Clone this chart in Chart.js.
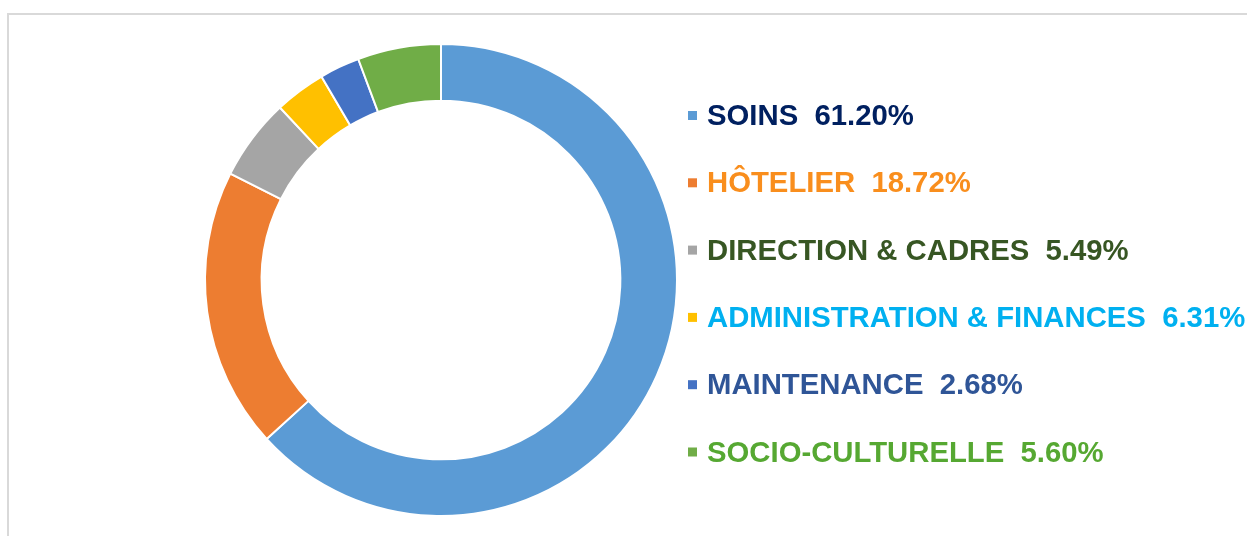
<!DOCTYPE html>
<html lang="fr">
<head>
    <meta charset="UTF-8">
    <title>Répartition du personnel</title>
    <script src="https://cdn.jsdelivr.net/npm/chart.js"></script>
    <style>
        html, body { margin: 0; padding: 0; background: #fff; overflow: hidden; }
        #frame {
            position: absolute; left: 7px; top: 13px; width: 1300px; height: 600px;
            border-top: 2px solid #d9d9d9; border-left: 2px solid #d9d9d9;
        }
        #wrap { position: absolute; left: 0; top: 0; width: 1247px; height: 536px; }
    </style>
</head>
<body>
    <div id="frame"></div>
    <div id="wrap"><canvas id="myChart"></canvas></div>
    <script>
        // catégories et valeurs
        const categories = ['SOINS', 'HÔTELIER', 'DIRECTION & CADRES', 'ADMINISTRATION & FINANCES', 'MAINTENANCE', 'SOCIO-CULTURELLE'];
        const legendPercents = ['61.20%', '18.72%', '5.49%', '6.31%', '2.68%', '5.60%'];
        // tailles des secteurs
        const sliceValues = [63.2, 19.2, 5.6, 3.5, 2.75, 5.7];
        const sliceColors = ['#5B9BD5', '#ED7D31', '#A5A5A5', '#FFC000', '#4472C4', '#70AD47'];
        const textColors = ['#002060', '#F98E1D', '#375623', '#00B0F0', '#2F5597', '#56A832'];

        // légende dessinée à droite
        const sideLegend = {
            id: 'sideLegend',
            afterDraw(chart) {
                const ctx = chart.ctx;
                ctx.save();
                ctx.font = 'bold 29.3px "Liberation Sans", Arial, sans-serif';
                ctx.textBaseline = 'alphabetic';
                categories.forEach((cat, i) => {
                    const base = 125 + i * 67.3;
                    ctx.fillStyle = sliceColors[i];
                    ctx.fillRect(688, base - 14, 9, 9);
                    ctx.fillStyle = textColors[i];
                    ctx.fillText(cat + '  ' + legendPercents[i], 707, base);
                });
                ctx.restore();
            }
        };

        const ctx = document.getElementById('myChart').getContext('2d');
        new Chart(ctx, {
            type: 'doughnut',
            data: {
                labels: categories,
                datasets: [{
                    data: sliceValues,
                    backgroundColor: sliceColors,
                    borderColor: '#ffffff',
                    borderWidth: 2
                }]
            },
            options: {
                responsive: true,
                maintainAspectRatio: false,
                animation: false,
                cutout: '76%',
                layout: { padding: { left: 204, right: 569, top: 43, bottom: 19 } },
                plugins: {
                    legend: { display: false },
                    tooltip: { enabled: false }
                },
                events: []
            },
            plugins: [sideLegend]
        });
    </script>
</body>
</html>
